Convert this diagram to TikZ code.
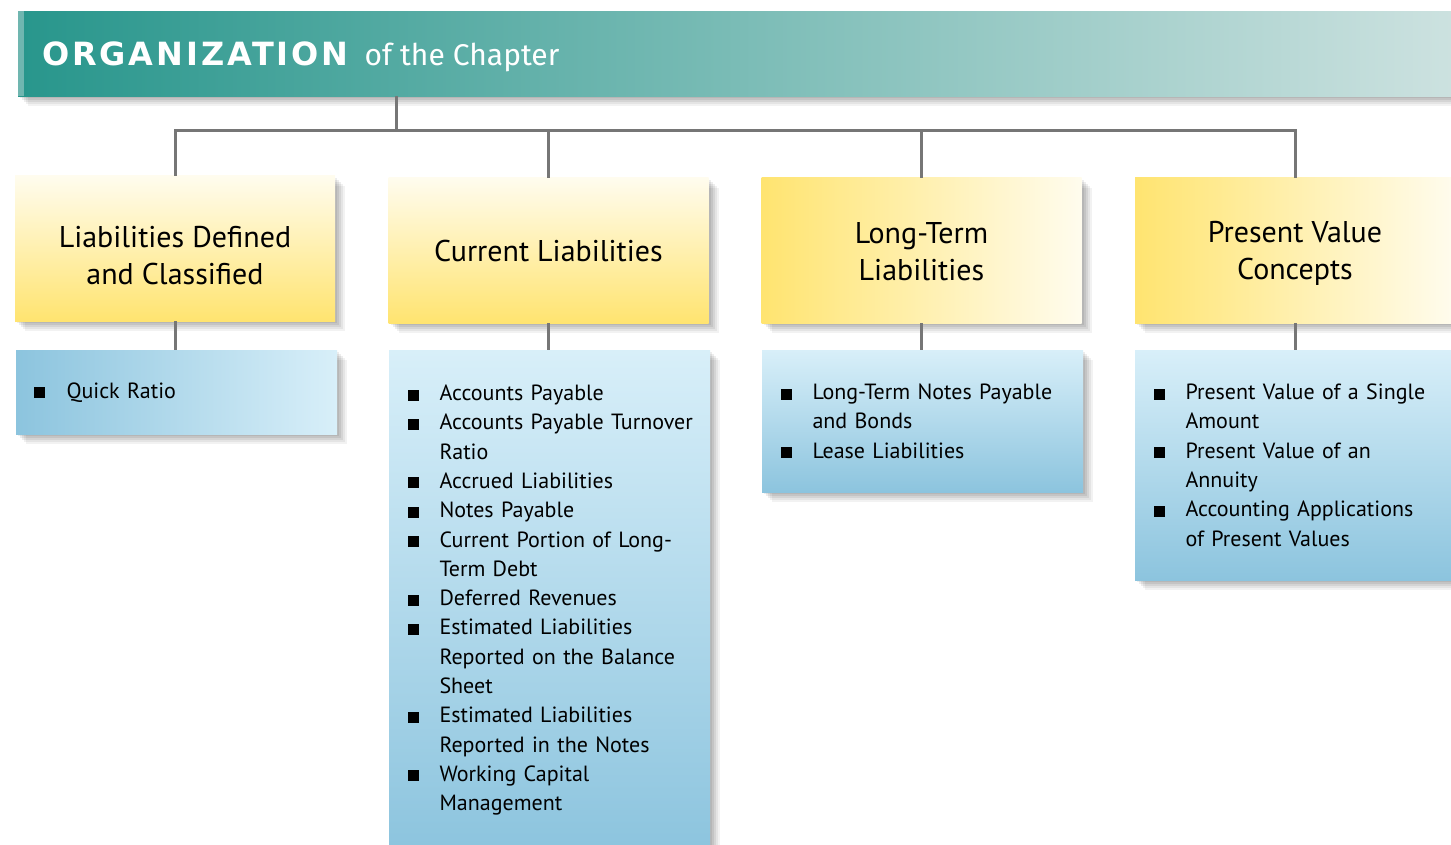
\documentclass[tikz,border=0pt]{standalone}
\usepackage{fontspec}
\setmainfont{PT Sans}
\newfontfamily\headfont[LetterSpace=9]{DejaVu Sans Bold}
\newfontfamily\subheadfont{Fira Sans}
\usetikzlibrary{positioning,shadows}
\definecolor{teal1}{RGB}{40,150,140}
\definecolor{teal2}{RGB}{205,226,224}
\definecolor{tealstrip}{RGB}{112,182,176}
\definecolor{gold}{RGB}{255,228,112}
\definecolor{cream}{RGB}{255,252,238}
\definecolor{skyd}{RGB}{140,196,222}
\definecolor{skyl}{RGB}{216,239,249}
\definecolor{wire}{RGB}{118,118,118}
\newcommand{\bitem}[1]{\hangindent=32pt\hangafter=1\noindent\makebox[32pt][l]{\rule{11pt}{11pt}}#1\par}

\begin{document}
\begin{tikzpicture}[x=1pt,y=-1pt,
  softshade/.style={general shadow={fill=black,opacity=.07,shadow xshift=2pt,shadow yshift=-2pt},
    general shadow={fill=black,opacity=.07,shadow xshift=4pt,shadow yshift=-4pt},
    general shadow={fill=black,opacity=.07,shadow xshift=6pt,shadow yshift=-6pt},
    general shadow={fill=black,opacity=.06,shadow xshift=8pt,shadow yshift=-8pt},
    general shadow={fill=black,opacity=.05,shadow xshift=10pt,shadow yshift=-10pt}},
  catbox/.style={softshade,minimum width=320pt,minimum height=145pt,inner sep=0pt},
  cattext/.style={inner sep=0pt,align=center,font=\fontsize{30}{37}\selectfont},
  listbox/.style={softshade,anchor=north,text width=302pt,inner xsep=9.5pt,inner ysep=0pt,align=left,font=\fontsize{22}{29.3}\selectfont},
  wireline/.style={draw=wire,line width=3pt}]
  \useasboundingbox (0,0) rectangle (1451,845);
  \clip (0,0) rectangle (1451,845);
  % header bar
  \node[softshade,anchor=north west,minimum width=1442pt,minimum height=85pt,inner sep=0pt,left color=teal1,right color=teal2] (header) at (18,11) {};
  \fill[tealstrip] (header.north west) rectangle ([xshift=6pt]header.south west);
  \node[anchor=base west,inner sep=0pt,text=white] (title) at (42,66) {{\headfont\fontsize{32}{32}\selectfont ORGANIZATION}\hspace{16pt}{\subheadfont\fontsize{30}{30}\selectfont of the Chapter}};
  % topics
  \node[catbox,top color=cream,bottom color=gold] (cat1) at (175,248.5) {};
  \node[catbox,top color=cream,bottom color=gold] (cat2) at (548.5,250.5) {};
  \node[catbox,left color=gold,right color=cream] (cat3) at (921.5,250.5) {};
  \node[catbox,left color=gold,right color=cream] (cat4) at (1295,250.5) {};
  \node[cattext] (cat1text) at (175,258.1) {Liabilities Defined\strut\\and Classified\strut};
  \node[cattext] (cat2text) at (548.5,254.3) {Current Liabilities\strut};
  \node[cattext] (cat3text) at (921.5,254.4) {Long-Term\strut\\Liabilities\strut};
  \node[cattext] (cat4text) at (1295,254) {Present Value\strut\\Concepts\strut};
  % lists
  \node[listbox,minimum height=84pt,left color=skyd,right color=skyl] (list1) at (176.5,350) {\leftskip=9pt\rightskip=-20pt plus 1fil
    \bitem{Quick Ratio}};
  \node[listbox,minimum height=500pt,top color=skyl,bottom color=skyd] (list2) at (549.5,350) {\leftskip=9pt\rightskip=-20pt plus 1fil
    \bitem{Accounts Payable}
    \bitem{Accounts Payable Turnover\break Ratio}
    \bitem{Accrued Liabilities}
    \bitem{Notes Payable}
    \bitem{Current Portion of Long-\break Term Debt}
    \bitem{Deferred Revenues}
    \bitem{Estimated Liabilities\break Reported on the Balance\break Sheet}
    \bitem{Estimated Liabilities\break Reported in the Notes}
    \bitem{Working Capital\break Management}};
  \node[listbox,minimum height=142pt,top color=skyl,bottom color=skyd] (list3) at (922.5,350) {\leftskip=9pt\rightskip=-20pt plus 1fil
    \bitem{Long-Term Notes Payable\break and Bonds}
    \bitem{Lease Liabilities}};
  \node[listbox,minimum height=230pt,top color=skyl,bottom color=skyd] (list4) at (1295.5,350) {\leftskip=9pt\rightskip=-20pt plus 1fil
    \bitem{Present Value of a Single\break Amount}
    \bitem{Present Value of an\break Annuity}
    \bitem{Accounting Applications\break of Present Values}};
  % connectors
  \coordinate (hub) at (396,131);
  \draw[wireline] (header.south -| hub) -- (hub);
  \foreach \n in {1,...,4}{
    \draw[wireline] (cat\n.north) |- (hub);
    \draw[wireline] (cat\n.south) -- (cat\n.south |- list\n.north);
  }
\end{tikzpicture}
\end{document}
